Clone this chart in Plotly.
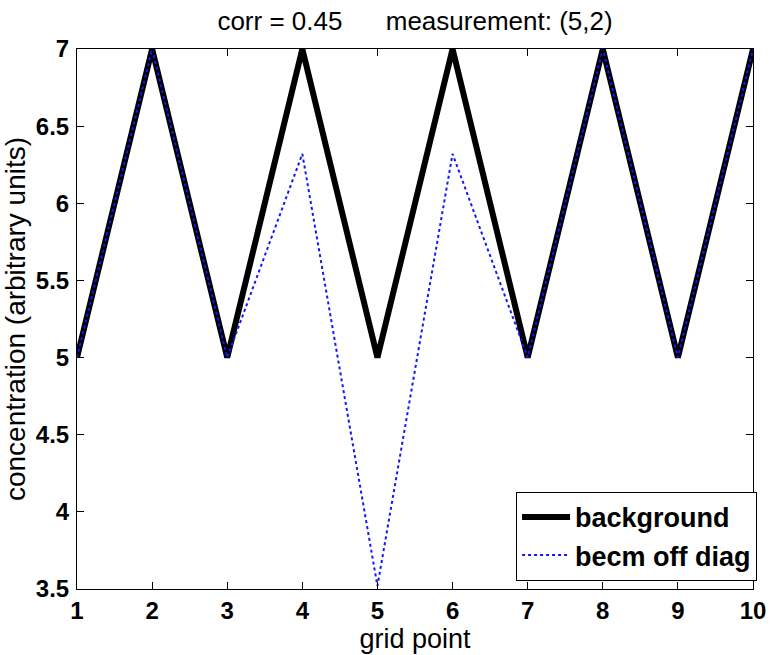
import plotly.graph_objects as go

grid_points = [1, 2, 3, 4, 5, 6, 7, 8, 9, 10]
background = [5, 7, 5, 7, 5, 7, 5, 7, 5, 7]
becm_off_diag = [5, 7, 5, 6.32, 3.52, 6.32, 5, 7, 5, 7]
x_ticks = [1, 2, 3, 4, 5, 6, 7, 8, 9, 10]
y_ticks = [3.5, 4, 4.5, 5, 5.5, 6, 6.5, 7]
y_tick_text = ["3.5", "4", "4.5", "5", "5.5", "6", "6.5", "7"]

fig = go.Figure()
fig.add_trace(go.Scatter(x=grid_points, y=background, mode="lines", name="background",
                         line=dict(color="black", width=6)))
fig.add_trace(go.Scatter(x=grid_points, y=becm_off_diag, mode="lines", name="becm off diag",
                         line=dict(color="rgb(20,20,255)", width=2, dash="dot")))

axis_common = dict(showline=True, linecolor="black", linewidth=1, mirror="ticks",
                   ticks="inside", ticklen=7, tickcolor="black", showgrid=False, zeroline=False,
                   tickfont=dict(family="Liberation Sans", size=24, color="black", weight="bold"))

fig.update_layout(
    width=778, height=655,
    margin=dict(l=77, r=15, t=49, b=64),
    paper_bgcolor="white", plot_bgcolor="white",
    title=dict(text="corr = 0.45" + "&nbsp;" * 6 + "measurement: (5,2)", x=0.5, xref="paper",
               xanchor="center", y=1 - 21 / 655, yanchor="middle",
               font=dict(family="Liberation Sans", size=26, color="black")),
    xaxis=dict(range=[1, 10], tickvals=x_ticks, ticklabelstandoff=0,
               title=dict(text="grid point", standoff=0,
                          font=dict(family="Liberation Sans", size=27, color="black")),
               **axis_common),
    yaxis=dict(range=[3.5, 7], tickvals=y_ticks, ticktext=y_tick_text, ticklabelstandoff=2,
               title=dict(text="concentration (arbitrary units)", standoff=3,
                          font=dict(family="Liberation Sans", size=28, color="black")),
               **axis_common),
    legend=dict(x=1.006, y=0.015, xanchor="right", yanchor="bottom",
                bordercolor="black", borderwidth=1, bgcolor="white",
                font=dict(family="Liberation Sans", size=27, color="black", weight="bold"),
                itemwidth=48, tracegroupgap=0, entrywidth=205, entrywidthmode="pixels"),
    showlegend=True,
)

fig.write_html("out.html")
